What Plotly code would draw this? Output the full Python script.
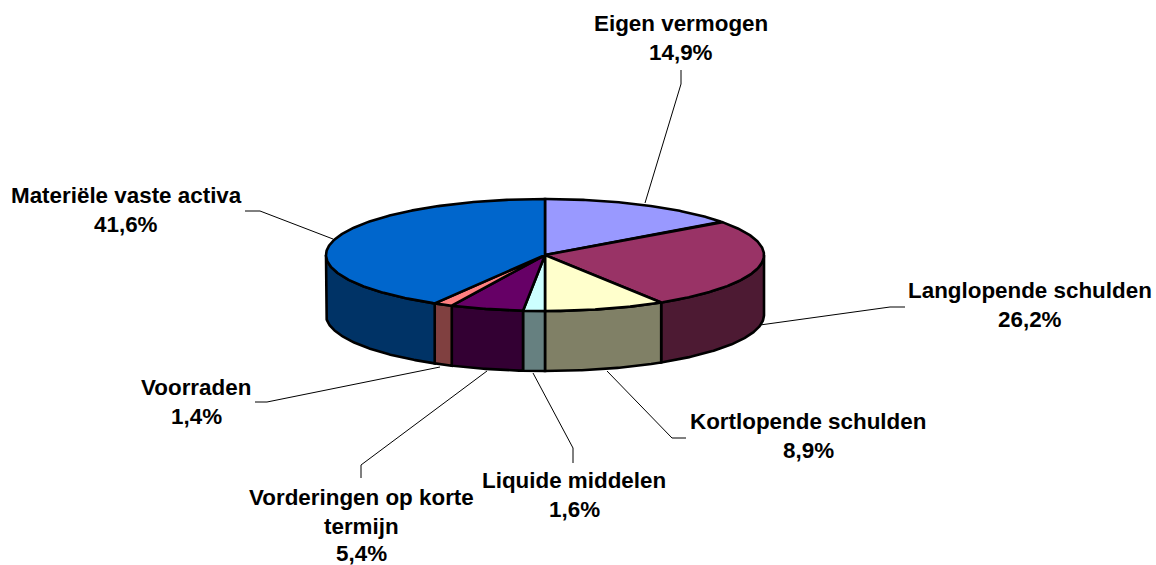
import numpy as np
import plotly.graph_objects as go

# Data
categories = ["Eigen vermogen", "Langlopende schulden", "Kortlopende schulden", "Liquide middelen",
              "Vorderingen op korte termijn", "Voorraden", "Materiële vaste activa"]
values = [14.9, 26.2, 8.9, 1.6, 5.4, 1.4, 41.6]
top_colors = ["#9999FF", "#993366", "#FFFFCC", "#CCFFFF", "#660066", "#FF8080", "#0066CC"]
side_colors = ["#4D4D80", "#4D1A33", "#808066", "#668080", "#330033", "#804040", "#003366"]

# Label lines: (text, x, y) in page units
label_lines = [
    ("Eigen vermogen", 681, 23), ("14,9%", 681, 52),
    ("Langlopende schulden", 1030, 290), ("26,2%", 1030, 319),
    ("Kortlopende schulden", 808, 421), ("8,9%", 808, 450),
    ("Liquide middelen", 574, 480), ("1,6%", 574, 509),
    ("Vorderingen op korte", 361, 497), ("termijn", 361, 526), ("5,4%", 361, 553),
    ("Voorraden", 196, 387), ("1,4%", 196, 416),
    ("Materiële vaste activa", 126, 195), ("41,6%", 126, 224),
]
leaders = [
    [(645, 203), (681, 84), (681, 70)],
    [(760, 325), (890, 307), (905, 307)],
    [(607, 371), (672, 438), (686, 438)],
    [(533, 373), (573, 448), (573, 463)],
    [(487, 371), (361, 465), (361, 478)],
    [(440, 367), (267, 402), (255, 402)],
    [(333, 239), (260, 211), (245, 211)],
]

# Pie geometry
CX, CY, RX, RY, DEPTH = 545, 255, 219, 56, 60


def arc(a0, a1, dy=0):
    t = np.radians(np.linspace(a0, a1, max(int(abs(a1 - a0) * 2), 2)))
    return CX + RX * np.sin(t), CY - RY * np.cos(t) + dy


fig = go.Figure()
edges = np.concatenate([[0], np.cumsum(values)]) / sum(values) * 360

# Leader lines
for pts in leaders:
    fig.add_trace(go.Scatter(x=[p[0] for p in pts], y=[p[1] for p in pts], mode="lines",
                             line=dict(color="#000000", width=1), hoverinfo="skip"))

# Side walls (only the front half is visible)
for i, c in enumerate(categories):
    a0, a1 = max(edges[i], 90), min(edges[i + 1], 270)
    if a1 <= a0:
        continue
    x0, y0 = arc(a0, a1)
    x1, y1 = arc(a0, a1, DEPTH)
    fig.add_trace(go.Scatter(
        x=np.concatenate([x0, x1[::-1], x0[:1]]), y=np.concatenate([y0, y1[::-1], y0[:1]]),
        mode="lines", fill="toself", fillcolor=side_colors[i],
        line=dict(color="#000000", width=2.6), hoverinfo="skip"))

# Top slices
for i, c in enumerate(categories):
    x0, y0 = arc(edges[i], edges[i + 1])
    fig.add_trace(go.Scatter(
        x=np.concatenate([[CX], x0, [CX]]), y=np.concatenate([[CY], y0, [CY]]),
        mode="lines", fill="toself", fillcolor=top_colors[i],
        line=dict(color="#000000", width=2.6), name=c, text=f"{values[i]}%", hoverinfo="name+text"))

for text, x, y in label_lines:
    fig.add_annotation(x=x, y=y, text=f"<b>{text}</b>", showarrow=False, xanchor="center", yanchor="middle",
                       font=dict(family="Liberation Sans", size=22.4, color="#000000"))

fig.update_layout(
    width=1156, height=565, margin=dict(l=0, r=0, t=0, b=0), showlegend=False,
    paper_bgcolor="#FFFFFF", plot_bgcolor="#FFFFFF",
    xaxis=dict(range=[0, 1156], visible=False, fixedrange=True),
    yaxis=dict(range=[565, 0], visible=False, fixedrange=True),
)
fig.write_html("out.html", post_script="document.body.style.margin='0';document.body.style.overflow='hidden';",
               config={"displayModeBar": False})
